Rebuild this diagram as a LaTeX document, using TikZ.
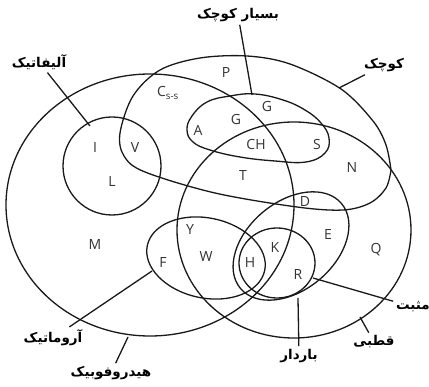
\documentclass[tikz,border=0pt]{standalone}
\usepackage{fontspec}
\setmainfont{Open Sans}
\newfontfamily\farsi[Script=Arabic]{DejaVu Sans}
\TeXXeTstate=1

\tikzset{
  ens/.style={line width=1.3pt, black!90},
  aa/.style={font=\fontsize{14}{14}\selectfont, text=black!80, inner sep=0pt},
  etiq/.style={font=\farsi\bfseries\fontsize{13.5}{15}\selectfont, inner sep=1pt, outer sep=2pt},
  trait/.style={line width=1.3pt, black!90}
}

\begin{document}
\begin{tikzpicture}[x=1pt,y=-1pt]
\fill[white] (0,0) rectangle (429,387);
\useasboundingbox (0,0) rectangle (429,387);

% Ensembles
\draw[ens] (150,205) ellipse (144 and 131); % hydrophobe
\draw[ens] (294,230) ellipse (117 and 108); % polaire
\draw[ens] (112,166) circle (49); % aliphatique
\draw[ens, rotate around={-12:(206,258)}] (206,258) ellipse (60 and 40); % aromatique
\draw[ens, rotate around={40:(291,246)}] (291,246) ellipse (66 and 44); % charge
\draw[ens] (277,263) ellipse (38 and 35); % positif
\draw[ens] plot[smooth cycle, tension=0.7] coordinates {
  (187,130) (192,116) (207,102) (230,96) (255,94) (283,100) (305,110)
  (321,123) (329,138) (325,153) (306,162) (275,161) (240,157) (210,150) (193,142)}; % tres petit
\draw[ens] plot[smooth, tension=0.55] coordinates {
  (391,170) (386,145) (373,121) (341,89) (290,64) (247,56) (200,58) (160,70) (133,96)
  (120,133) (124,156) (145,172) (215,193) (297,207) (343,210) (370,203) (386,188) (391,170)}; % petit

% Acides amines
\foreach \nom/\x/\y/\txt in {P/226/73/P, Css/168/93/{C\textsubscript{s-s}}, A/198/130/A,
    Ga/267/107/G, Gb/236/120/G, CH/256/145/CH, S/317/145/S, T/243/176/T, N/352/168/N,
    I/95/148/I, V/135/148/V, L/112/182/L, M/95/245/M, D/305/202/D, E/328/235/E,
    Q/376/250/Q, Y/190/230/Y, W/206/257/W, F/163/263/F, H/250/263/H, K/275/248/K,
    R/298/275/R} {
  \node[aa] (\nom) at (\x,\y) {\txt};
}

% Etiquettes
\node[etiq] (aliph) at (39,62) {\beginR آلیفاتیک\endR};
\node[etiq] (tpetit) at (238,15) {\beginR بسیار کوچک\endR};
\node[etiq] (petit) at (384,65) {\beginR کوچک\endR};
\node[etiq] (posit) at (413,307) {\beginR مثبت\endR};
\node[etiq] (polaire) at (374,342) {\beginR قطبی\endR};
\node[etiq] (charge) at (299,356) {\beginR باردار\endR};
\node[etiq] (aroma) at (53,338) {\beginR آروماتیک\endR};
\node[etiq] (hydro) at (111,373) {\beginR هیدروفوبیک\endR};

\coordinate (aliph-p) at (90,126);
\coordinate (tpetit-p) at (252,95);
\coordinate (petit-p) at (339,88);
\coordinate (posit-p) at (313,278);
\coordinate (polaire-p) at (360,317);
\coordinate (charge-p) at (298,298);
\coordinate (aroma-p) at (152,271);
\coordinate (hydro-p) at (128,337);

\foreach \e in {aliph,tpetit,petit,posit,polaire,charge,aroma,hydro} {
  \draw[trait] (\e) -- (\e-p);
}

\end{tikzpicture}
\end{document}
